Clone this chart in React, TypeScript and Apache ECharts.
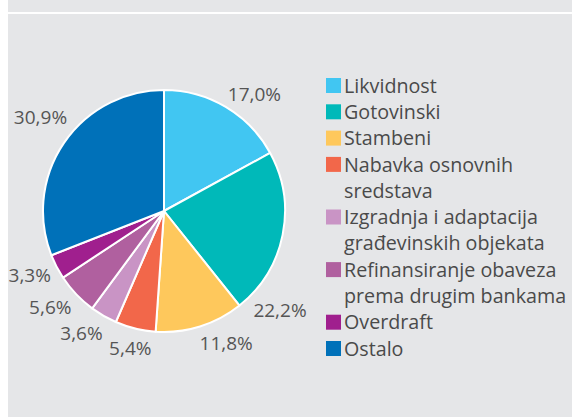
import React, { useEffect, useRef } from "react";
import * as echarts from "echarts";

const categories = [
  "Likvidnost",
  "Gotovinski",
  "Stambeni",
  "Nabavka osnovnih\nsredstava",
  "Izgradnja i adaptacija\ngrađevinskih objekata",
  "Refinansiranje obaveza\nprema drugim bankama",
  "Overdraft",
  "Ostalo",
];
const values = [17.0, 22.2, 11.8, 5.4, 3.6, 5.6, 3.3, 30.9];
const colors = [
  "#41c6f2",
  "#00b9b9",
  "#fec85c",
  "#f2674a",
  "#c994c5",
  "#b0609f",
  "#a01f8e",
  "#0071b9",
];
// small label nudges (dx, dy) relative to ECharts' outside label placement
const labelNudge: [number, number][] = [
  [-4, -3],
  [-41, 73],
  [-4, 5],
  [19, 8],
  [5, 7],
  [4, 5],
  [5, 3],
  [13, -19],
];

const FONT = "Open Sans";

export default function App() {
  const ref = useRef<HTMLDivElement>(null);
  useEffect(() => {
    if (!ref.current) return;
    const chart = echarts.init(ref.current, undefined, { renderer: "svg" });

    const lineH = 26.3;
    const legendX = 326;
    const legendTop = 72;
    const legendEls: any[] = [];
    let line = 0;
    categories.forEach((c, i) => {
      const top = legendTop + line * lineH;
      legendEls.push({
        type: "rect",
        shape: { x: legendX, y: top + 6, width: 15, height: 15 },
        style: { fill: colors[i] },
      });
      legendEls.push({
        type: "text",
        x: legendX + 18,
        y: top,
        style: {
          text: c,
          fill: "#4a4a4a",
          font: `19.7px "${FONT}"`,
          lineHeight: lineH,
          verticalAlign: "top",
          align: "left",
        },
      });
      line += c.split("\n").length;
    });

    chart.setOption({
      animation: false,
      backgroundColor: "#ffffff",
      graphic: [
        {
          type: "rect",
          z: -10,
          shape: { x: 8, y: 0, width: 564, height: 417 },
          style: { fill: "#e5e6e8" },
          silent: true,
        },
        {
          type: "rect",
          z: -9,
          shape: { x: 8, y: 12, width: 564, height: 2 },
          style: { fill: "#ffffff" },
          silent: true,
        },
        ...legendEls,
      ],
      series: [
        {
          type: "pie",
          center: [164, 211],
          radius: [0, 121],
          startAngle: 90,
          clockwise: true,
          avoidLabelOverlap: false,
          itemStyle: { borderColor: "#ffffff", borderWidth: 2 },
          label: {
            show: true,
            position: "outside",
            formatter: (p: any) => p.value.toFixed(1).replace(".", ",") + "%",
            color: "#555555",
            fontFamily: FONT,
            fontSize: 19,
            overflow: "none",
            distanceToLabelLine: 0,
          },
          labelLine: { show: false, length: 12, length2: 0 },
          labelLayout: (p: any) => ({
            dx: labelNudge[p.dataIndex][0],
            dy: labelNudge[p.dataIndex][1],
          }),
          emphasis: { disabled: true },
          data: values.map((v, i) => ({
            value: v,
            name: categories[i],
            itemStyle: { color: colors[i] },
          })),
        },
      ],
    });
    return () => chart.dispose();
  }, []);
  return (
    <div
      ref={ref}
      style={{ position: "fixed", left: 0, top: 0, width: 572, height: 417 }}
    />
  );
}
